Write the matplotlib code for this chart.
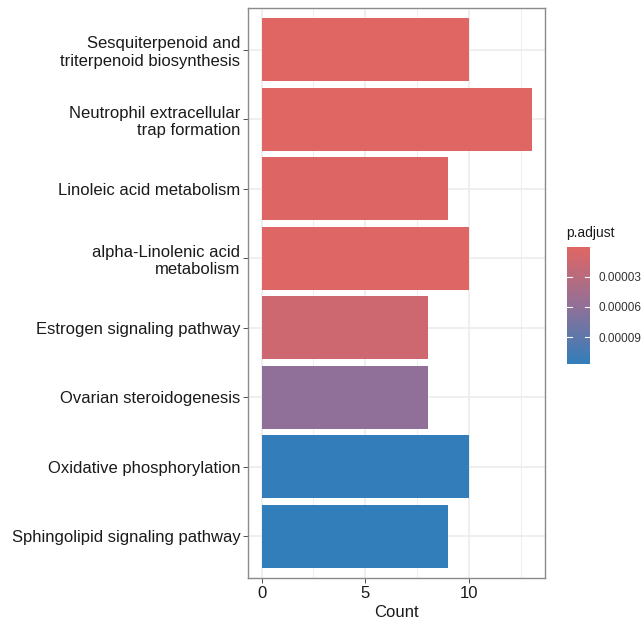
import numpy as np
import matplotlib.pyplot as plt
from matplotlib.colors import LinearSegmentedColormap, Normalize
from matplotlib.cm import ScalarMappable

plt.rcParams['font.family'] = ['Liberation Sans', 'DejaVu Sans']

# 通路富集结果
pathways = [
    'Sesquiterpenoid and\ntriterpenoid biosynthesis',
    'Neutrophil extracellular\ntrap formation',
    'Linoleic acid metabolism',
    'alpha-Linolenic acid\nmetabolism',
    'Estrogen signaling pathway',
    'Ovarian steroidogenesis',
    'Oxidative phosphorylation',
    'Sphingolipid signaling pathway',
]
counts = [10, 13, 9, 10, 8, 8, 10, 9]
p_adjust = [6e-7, 1.0e-6, 3.0e-6, 2.0e-6, 1.5e-5, 6.0e-5, 1.16e-4, 1.167e-4]

cmap = LinearSegmentedColormap.from_list('padj', ['#e06663', '#927097', '#327eba'])
norm = Normalize(vmin=min(p_adjust), vmax=max(p_adjust))

fig = plt.figure(figsize=(6.41, 6.22), dpi=100)
ax = fig.add_axes([248 / 641, 1 - 578 / 622, 297 / 641, 570 / 622])

y = np.arange(len(pathways))
ax.barh(y, counts, height=0.9, color=cmap(norm(np.array(p_adjust))), zorder=3)

ax.set_ylim(len(pathways) - 0.4, -0.6)
ax.set_xlim(-0.65, 13.65)
ax.set_yticks(y)
ax.set_yticklabels(pathways, fontsize=12, color='#1a1a1a')
ax.set_xticks([0, 5, 10])
ax.set_xticks([2.5, 7.5, 12.5], minor=True)
ax.tick_params(axis='x', labelsize=12, labelcolor='#1a1a1a')
ax.tick_params(which='major', length=3.5, width=0.6, color='#333333', pad=2)
ax.tick_params(which='minor', length=0)
for lab in ax.get_yticklabels():
    lab.set_multialignment('right')

# 网格线
ax.grid(True, which='major', color='#ebebeb', linewidth=1.1, zorder=0)
ax.grid(True, which='minor', axis='x', color='#ebebeb', linewidth=0.6, zorder=0)
ax.set_axisbelow(True)
for s in ax.spines.values():
    s.set_color('#8a8a8a')
    s.set_linewidth(1.0)

ax.set_xlabel('Count', fontsize=12, color='#1a1a1a', labelpad=3)

# 颜色条
cax = fig.add_axes([567 / 641, 1 - 364 / 622, 23 / 641, 117 / 622])
sm = ScalarMappable(norm=norm, cmap=cmap)
cb = fig.colorbar(sm, cax=cax)
cb.outline.set_visible(False)
cax.invert_yaxis()
ticks = [0.00003, 0.00006, 0.00009]
cb.set_ticks(ticks)
cb.set_ticklabels(['0.00003', '0.00006', '0.00009'])
cax.tick_params(length=0, labelsize=8.5, pad=6, labelcolor='#333333')
for t in ticks:
    cax.plot([0, 0.2], [t, t], color='white', lw=0.8)
    cax.plot([0.8, 1], [t, t], color='white', lw=0.8)
fig.text(566 / 641, 1 - 233 / 622, 'p.adjust', fontsize=10, color='#1a1a1a', va='center')

fig.savefig('out.png', dpi=100)
plt.close(fig)
